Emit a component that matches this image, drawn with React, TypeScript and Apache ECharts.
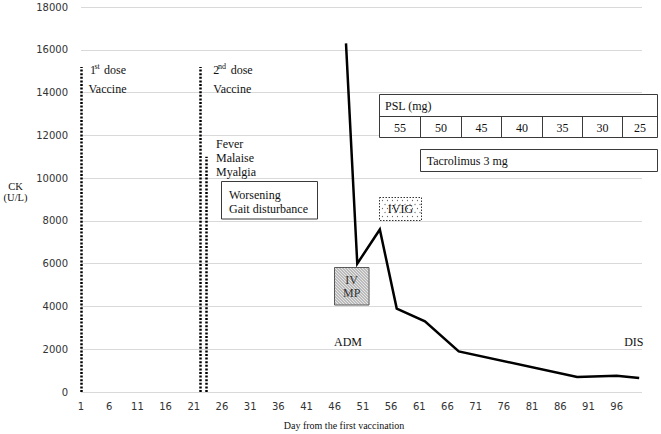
import React, { useEffect, useRef } from 'react';
import * as echarts from 'echarts';

// CK values (U/L) by day from the first vaccination
const ckDays = [48, 50, 54, 57, 62, 68, 89, 96, 100];
const ckValues = [16300, 6000, 7600, 3900, 3300, 1900, 700, 760, 650];
// dotted vertical markers: 1st dose, 2nd dose, symptom onset
const markerDays = [1, 22.2, 23.3];
const markerTops = [15200, 15200, 11000];
// PSL taper (mg)
const pslDoses = ['55', '50', '45', '40', '35', '30', '25'];
const symptoms = ['Fever', 'Malaise', 'Myalgia'];

const SERIF = '"Liberation Serif", "Times New Roman", serif';
const SANS = '"DejaVu Sans", Verdana, sans-serif';

function txt(text: string, x: number, y: number, size = 12, align = 'left', color = '#111') {
  return {
    type: 'text',
    x,
    y,
    silent: true,
    z: 20,
    style: {
      text,
      fontSize: size,
      fontFamily: SERIF,
      fill: color,
      textAlign: align,
      textVerticalAlign: 'middle',
      align,
      verticalAlign: 'middle',
    },
  };
}

function rect(x: number, y: number, w: number, h: number, fill = '#fff', stroke = '#3a3a3a', dash?: number[]) {
  return {
    type: 'rect',
    silent: true,
    z: 10,
    shape: { x, y, width: w, height: h },
    style: { fill, stroke, lineWidth: 1, lineDash: dash },
  };
}

function line(x1: number, y1: number, x2: number, y2: number, stroke = '#3a3a3a', w = 1) {
  return {
    type: 'line',
    silent: true,
    z: 11,
    shape: { x1, y1, x2, y2 },
    style: { stroke, lineWidth: w },
  };
}

function buildGraphics() {
  const g: any[] = [];
  // vaccination labels
  g.push(txt('1', 90, 70));
  g.push(txt('st', 94.5, 66.5, 8));
  g.push(txt('dose', 104, 70));
  g.push(txt('Vaccine', 88.5, 88.5));
  g.push(txt('2', 213.3, 70));
  g.push(txt('nd', 218, 66.5, 8));
  g.push(txt('dose', 230.7, 70));
  g.push(txt('Vaccine', 213.3, 88.5));
  symptoms.forEach((s, i) => g.push(txt(s, 216, 144 + i * 14.2)));
  // worsening box
  g.push(rect(221.5, 181.5, 96, 37.5));
  g.push(txt('Worsening', 229, 194.5));
  g.push(txt('Gait disturbance', 229, 208.5));
  // PSL table
  const cols = [379.5, 420.5, 461.5, 501.5, 542.5, 582.5, 622.5, 657.5];
  g.push(rect(379.5, 94.5, 278, 43));
  g.push(line(379.5, 116.5, 657.5, 116.5));
  for (let i = 1; i < cols.length - 1; i++) g.push(line(cols[i], 116.5, cols[i], 137.5));
  g.push(txt('PSL (mg)', 385, 105.5));
  pslDoses.forEach((d, i) => g.push(txt(d, (cols[i] + cols[i + 1]) / 2, 127.5, 12, 'center')));
  // Tacrolimus
  g.push(rect(420.5, 149.5, 237, 22));
  g.push(txt('Tacrolimus 3 mg', 426.7, 160.8));
  // IVIG box with dotted fill
  const ix0 = 379.5, iy0 = 197.5, ix1 = 421.5, iy1 = 220.5;
  g.push(rect(ix0, iy0, ix1 - ix0, iy1 - iy0, '#fff', '#333', [1.5, 1.5]));
  let row = 0;
  for (let y = iy0 + 3; y < iy1 - 1; y += 4, row++) {
    for (let x = ix0 + 3 + (row % 2) * 2.5; x < ix1 - 1; x += 5) {
      g.push({ type: 'circle', silent: true, z: 11, shape: { cx: x, cy: y, r: 0.6 }, style: { fill: '#666' } });
    }
  }
  g.push(txt('IVIG', 400.5, 209, 12, 'center'));
  // IV MP box with hatching
  const hx0 = 334.5, hy0 = 267.5, hx1 = 369, hy1 = 305;
  g.push(rect(hx0, hy0, hx1 - hx0, hy1 - hy0, '#e6e6e6', '#555'));
  for (let c = hy0 - hx1; c < hy1 - hx0; c += 3) {
    const xa = Math.max(hx0, hy0 - c);
    const xb = Math.min(hx1, hy1 - c);
    if (xb > xa) g.push(line(xa, xa + c, xb, xb + c, '#7a7a7a', 0.8));
  }
  g.push(txt('IV', 351.7, 279.5, 12, 'center', '#333'));
  g.push(txt('MP', 351.7, 293, 12, 'center', '#333'));
  // ADM / DIS
  g.push(txt('ADM', 334, 341.5));
  g.push(txt('DIS', 643.5, 341.5, 12, 'right'));
  // axis titles
  g.push(txt('CK', 15.5, 186, 10.5, 'center'));
  g.push(txt('(U/L)', 15.5, 197.5, 10.5, 'center'));
  g.push(txt('Day from the first vaccination', 344, 425.5, 10, 'center'));
  return g;
}

export default function App() {
  const ref = useRef<HTMLDivElement>(null);
  useEffect(() => {
    document.body.style.margin = '0';
    const chart = echarts.init(ref.current!, undefined, { renderer: 'svg' });
    const markData = markerDays.map((d, i) => [
      { coord: [d, 0] },
      { coord: [d, markerTops[i]] },
    ]);
    chart.setOption({
      animation: false,
      backgroundColor: '#fff',
      grid: { left: 81, right: 19, top: 7, bottom: 42, containLabel: false },
      xAxis: {
        type: 'value',
        min: 1,
        max: 100.5,
        interval: 5,
        axisLine: { show: false },
        axisTick: { show: false },
        splitLine: { show: false },
        axisLabel: {
          showMaxLabel: false,
          margin: 9,
          fontFamily: SANS,
          fontSize: 10,
          color: '#333',
          formatter: (v: number) => (v > 100 ? '' : String(v)),
        },
      },
      yAxis: {
        type: 'value',
        min: 0,
        max: 18000,
        interval: 2000,
        axisLine: { show: false },
        axisTick: { show: false },
        splitLine: { lineStyle: { color: '#d9d9d9', width: 1 } },
        axisLabel: {
          margin: 13,
          fontFamily: SANS,
          fontSize: 10,
          color: '#333',
          formatter: (v: number) => String(v),
        },
      },
      series: [
        {
          type: 'line',
          data: ckDays.map((d, i) => [d, ckValues[i]]),
          symbol: 'none',
          lineStyle: { color: '#000', width: 2.5, join: 'miter' },
          z: 5,
          markLine: {
            silent: true,
            symbol: ['none', 'none'],
            label: { show: false },
            lineStyle: { color: '#000', width: 2.5, type: [2, 1.6] },
            emphasis: { disabled: true },
            data: markData,
          },
        },
      ],
      graphic: buildGraphics(),
    });
    return () => chart.dispose();
  }, []);
  return <div ref={ref} style={{ position: 'absolute', left: 0, top: 0, width: 661, height: 434 }} />;
}
